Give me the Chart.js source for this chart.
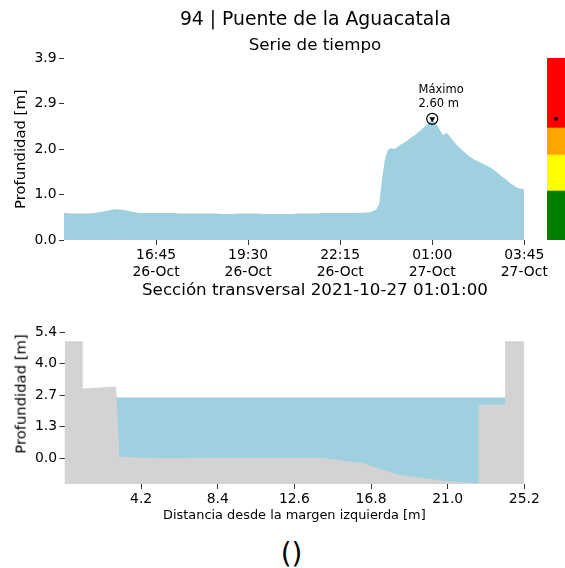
<!DOCTYPE html>
<html><head><meta charset="utf-8">
<script src="https://cdn.jsdelivr.net/npm/chart.js@4.4.1/dist/chart.umd.min.js"></script>
<style>
html,body{margin:0;padding:0;background:#fff;}
#wrap{position:relative;width:565px;height:568px;overflow:hidden;font-family:"DejaVu Sans";color:#000;}
canvas{position:absolute;}
.t{position:absolute;white-space:nowrap;line-height:1;transform:translateX(-50%);}
</style></head><body>
<div id="wrap">
<canvas id="ts" width="565" height="285" style="left:0;top:0;width:565px;height:285px"></canvas>
<canvas id="cb" width="18" height="182" style="left:547px;top:58px;width:18px;height:182px"></canvas>
<canvas id="xs" width="565" height="230" style="left:0;top:300px;width:565px;height:230px"></canvas>
<div class="t" style="left:315.5px;top:9.5px;font-size:18.8px">94 | Puente de la Aguacatala</div>
<div class="t" style="left:315px;top:36.4px;font-size:16.7px">Serie de tiempo</div>
<div class="t" style="left:315px;top:280.7px;font-size:16.7px">Sección transversal 2021-10-27 01:01:00</div>
<div style="position:absolute;left:21px;top:394px;font-size:14.8px;line-height:1;white-space:nowrap;transform:translate(-50%,-50%) rotate(-90deg)">Profundidad [m]</div>
<div class="t" style="left:291.5px;top:539.6px;font-size:27.8px">()</div>
</div>
<script>
// ---------- Time series data ----------
const seriesTimes = [
 "2021-10-26 14:00","2021-10-26 14:15","2021-10-26 14:30","2021-10-26 14:45","2021-10-26 15:00","2021-10-26 15:15",
 "2021-10-26 15:30","2021-10-26 15:45","2021-10-26 16:00","2021-10-26 16:15","2021-10-26 16:30","2021-10-26 16:45",
 "2021-10-26 17:00","2021-10-26 17:15","2021-10-26 17:30","2021-10-26 17:45","2021-10-26 18:00","2021-10-26 18:15",
 "2021-10-26 18:30","2021-10-26 18:45","2021-10-26 19:00","2021-10-26 19:15","2021-10-26 19:30","2021-10-26 19:45",
 "2021-10-26 20:00","2021-10-26 20:15","2021-10-26 20:30","2021-10-26 20:45","2021-10-26 21:00","2021-10-26 21:15",
 "2021-10-26 21:30","2021-10-26 21:45","2021-10-26 22:00","2021-10-26 22:15","2021-10-26 22:30","2021-10-26 22:45",
 "2021-10-26 23:00","2021-10-26 23:05","2021-10-26 23:10","2021-10-26 23:15","2021-10-26 23:20","2021-10-26 23:25",
 "2021-10-26 23:30","2021-10-26 23:35","2021-10-26 23:40","2021-10-26 23:45","2021-10-26 23:50","2021-10-26 23:55",
 "2021-10-27 00:00","2021-10-27 00:05","2021-10-27 00:10","2021-10-27 00:15","2021-10-27 00:20","2021-10-27 00:25",
 "2021-10-27 00:30","2021-10-27 00:35","2021-10-27 00:40","2021-10-27 00:45","2021-10-27 00:50","2021-10-27 00:55",
 "2021-10-27 01:00","2021-10-27 01:05","2021-10-27 01:10","2021-10-27 01:15","2021-10-27 01:20","2021-10-27 01:25",
 "2021-10-27 01:30","2021-10-27 01:35","2021-10-27 01:40","2021-10-27 01:45","2021-10-27 01:50","2021-10-27 01:55",
 "2021-10-27 02:00","2021-10-27 02:05","2021-10-27 02:10","2021-10-27 02:15","2021-10-27 02:20","2021-10-27 02:25",
 "2021-10-27 02:30","2021-10-27 02:35","2021-10-27 02:40","2021-10-27 02:45","2021-10-27 02:50","2021-10-27 02:55",
 "2021-10-27 03:00","2021-10-27 03:05","2021-10-27 03:10","2021-10-27 03:15","2021-10-27 03:20","2021-10-27 03:25",
 "2021-10-27 03:30","2021-10-27 03:35","2021-10-27 03:40","2021-10-27 03:45"
];
const seriesDepth = [
 0.58,0.57,0.57,0.57,0.59,0.62,
 0.66,0.65,0.61,0.58,0.58,0.58,
 0.58,0.58,0.57,0.57,0.57,0.57,
 0.57,0.56,0.56,0.57,0.57,0.57,
 0.56,0.56,0.56,0.56,0.57,0.57,
 0.57,0.58,0.58,0.58,0.58,0.58,
 0.59,0.59,0.60,0.62,0.66,0.78,
 1.30,1.72,1.92,1.97,1.96,1.97,
 2.02,2.06,2.09,2.13,2.18,2.22,
 2.26,2.32,2.36,2.42,2.47,2.52,
 2.60,2.50,2.44,2.33,2.25,2.30,
 2.25,2.17,2.10,2.03,1.97,1.91,
 1.86,1.81,1.77,1.73,1.70,1.67,
 1.64,1.61,1.58,1.55,1.51,1.46,
 1.41,1.36,1.32,1.27,1.22,1.18,
 1.14,1.11,1.10,1.09
];
const timeTicks = ["2021-10-26 16:45","2021-10-26 19:30","2021-10-26 22:15","2021-10-27 01:00","2021-10-27 03:45"];
const timeTickLabels = [["16:45","26-Oct"],["19:30","26-Oct"],["22:15","26-Oct"],["01:00","27-Oct"],["03:45","27-Oct"]];
const depthTicksTop = [0, 0.975, 1.95, 2.925, 3.9];
const depthTickLabelsTop = ["0.0","1.0","2.0","2.9","3.9"];

// ---------- Alert levels (colour bar) ----------
const levelBounds = [0, 1.05, 1.82, 2.40, 3.9];
const levelColors = ["#008000","#ffff00","#ffa500","#ff0000"];

// ---------- Cross-section data ----------
const bedX = [0, 1.0, 1.0, 2.83, 3.01, 5.4, 8.4, 11.0, 14.1, 16.3, 18.3, 20.7, 22.7, 22.7, 24.15, 24.15, 25.2];
const bedY = [5.0, 5.0, 2.98, 3.07, 0.07, 0.0, 0.02, 0.02, 0.02, -0.2, -0.7, -0.95, -1.08, 2.28, 2.30, 5.0, 5.0];
const waterLevel = 2.6;
const distTicks = [4.2, 8.4, 12.6, 16.8, 21.0, 25.2];
const depthTicksSec = [0, 1.35, 2.7, 4.05, 5.4];
const depthTickLabelsSec = ["0.0","1.3","2.7","4.0","5.4"];

// ---------- styling ----------
const FONT = "DejaVu Sans";
const BLUE = "rgb(158,208,224)";
const GRAY = "#d3d3d3";
Chart.defaults.font.family = FONT;
Chart.defaults.color = "#000";

const toMs = s => Date.parse(s.replace(" ", "T") + ":00Z");
const seriesPts = seriesTimes.map((t, i) => ({x: toMs(t), y: seriesDepth[i]}));
const maxDepth = Math.max(...seriesDepth);
const maxIdx = seriesDepth.indexOf(maxDepth);
const maxPoint = [{x: toMs(seriesTimes[maxIdx]), y: maxDepth}];

const tickGrid = {drawOnChartArea:false, drawTicks:true, tickLength:5, color:"#333", lineWidth:1};
const tickFont = {family:FONT, size:13.9};

const maxLabel = {
  id: "maxLabel",
  afterDatasetsDraw(chart) {
    const xs = chart.scales.x, ys = chart.scales.y;
    const px = xs.getPixelForValue(maxPoint[0].x), py = ys.getPixelForValue(maxPoint[0].y);
    const ctx = chart.ctx;
    ctx.save();
    ctx.font = "11.5px '" + FONT + "'";
    ctx.fillStyle = "#000";
    ctx.textAlign = "left";
    ctx.textBaseline = "alphabetic";
    ctx.fillText("Máximo", px - 13.7, py - 25.7);
    ctx.fillText(maxDepth.toFixed(2) + " m", px - 13.7, py - 12);
    ctx.restore();
  }
};

new Chart(document.getElementById("ts"), {
  type: "line",
  data: { datasets: [
    {data: maxPoint, showLine:false, pointStyle:"triangle", rotation:180, pointRadius:3.3, backgroundColor:"#000", borderColor:"#000", borderWidth:0},
    {data: maxPoint, showLine:false, pointStyle:"circle", pointRadius:5.5, backgroundColor:"rgba(255,255,255,0)", borderColor:"#000", borderWidth:1.2},
    {data: seriesPts, fill:"origin", backgroundColor:BLUE, borderWidth:0, pointRadius:0, tension:0}
  ]},
  options: {
    responsive:false, animation:false, events:[],
    layout:{autoPadding:false, padding:{top:58.3, right:40.7, left:0, bottom:0}},
    plugins:{legend:{display:false}, tooltip:{enabled:false}},
    scales:{
      x:{type:"linear", min: toMs(seriesTimes[0]), max: toMs(seriesTimes[seriesTimes.length-1]),
         afterBuildTicks: s => { s.ticks = timeTicks.map(t => ({value: toMs(t)})); },
         afterFit: s => { s.height = 45; },
         grid: tickGrid, border:{display:false},
         ticks:{font:tickFont, color:"#000", padding:2.5, autoSkip:false, maxRotation:0, minRotation:0,
                callback:(v, i) => timeTickLabels[i]}},
      y:{min:0, max:3.9,
         afterBuildTicks: s => { s.ticks = depthTicksTop.map(v => ({value:v})); },
         afterFit: s => { s.width = 64; },
         grid: tickGrid, border:{display:false},
         ticks:{font:tickFont, color:"#000", padding:2.5, autoSkip:false, callback:(v, i) => depthTickLabelsTop[i]},
         title:{display:true, text:"Profundidad [m]", color:"#000", font:{family:FONT, size:14.8}, padding:{top:12.1, bottom:0}}}
    }
  },
  plugins:[maxLabel]
});

new Chart(document.getElementById("cb"), {
  type: "bar",
  data: { labels: [""], datasets: [
    {type:"line", data:[maxDepth], showLine:false, pointRadius:2, backgroundColor:"#000", borderColor:"#000", borderWidth:0},
    ...levelColors.map((c, i) => ({data:[[levelBounds[i], levelBounds[i+1]]], backgroundColor:c, borderWidth:0,
      grouped:false, barPercentage:1, categoryPercentage:1, borderSkipped:false}))
  ]},
  options: {
    responsive:false, animation:false, events:[],
    layout:{autoPadding:false, padding:0},
    plugins:{legend:{display:false}, tooltip:{enabled:false}},
    scales:{ x:{display:false}, y:{display:false, min:0, max:3.9} }
  }
});

new Chart(document.getElementById("xs"), {
  type: "line",
  data: { datasets: [
    {data: bedX.map((x, i) => ({x, y: bedY[i]})), fill:"start", backgroundColor:GRAY, borderWidth:0, pointRadius:0, tension:0},
    {data: [{x: bedX[0], y: waterLevel}, {x: bedX[bedX.length-1], y: waterLevel}], fill:"start", backgroundColor:BLUE, borderWidth:0, pointRadius:0}
  ]},
  options: {
    responsive:false, animation:false, events:[],
    layout:{autoPadding:false, padding:{top:32, right:40.7, left:0, bottom:0}},
    plugins:{legend:{display:false}, tooltip:{enabled:false}},
    scales:{
      x:{type:"linear", min:0, max:25.2,
         afterBuildTicks: s => { s.ticks = distTicks.map(v => ({value:v})); },
         afterFit: s => { s.height = 46; },
         grid: tickGrid, border:{display:false},
         ticks:{font:tickFont, color:"#000", padding:2.5, autoSkip:false, maxRotation:0, minRotation:0,
                callback:(v, i) => distTicks[i].toFixed(1)},
         title:{display:true, text:"Distancia desde la margen izquierda [m]", color:"#000", font:{family:FONT, size:12.9}, padding:{top:0, bottom:6.3}}},
      y:{min:-1.1, max:5.4,
         afterBuildTicks: s => { s.ticks = depthTicksSec.map(v => ({value:v})); },
         afterFit: s => { s.width = 64.5; },
         grid: tickGrid, border:{display:false},
         ticks:{font:tickFont, color:"#000", padding:2.5, autoSkip:false, callback:(v, i) => depthTickLabelsSec[i]}}
    }
  }
});
</script>
</body></html>
